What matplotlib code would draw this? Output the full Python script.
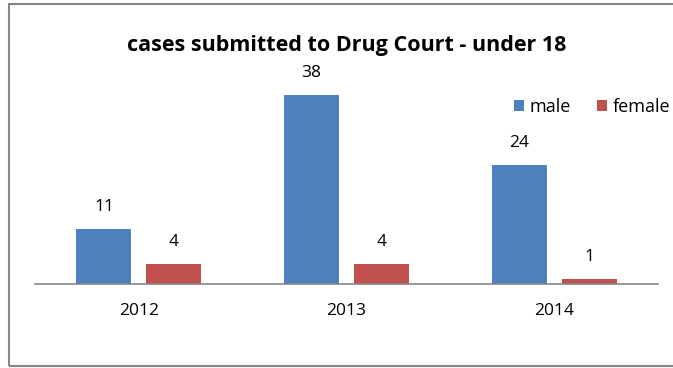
import matplotlib.pyplot as plt
import numpy as np
from matplotlib.patches import Rectangle

years = ["2012", "2013", "2014"]
male = [11, 38, 24]
female = [4, 4, 1]

plt.rcParams['font.family'] = ['Open Sans', 'DejaVu Sans']

fig = plt.figure(figsize=(6.73, 3.68), dpi=100)
fig.patches.append(Rectangle((9 / 673, 2 / 368), 1.2, 362 / 368, transform=fig.transFigure,
                             fill=False, edgecolor='#868686', linewidth=1.5))

ax = fig.add_axes([35 / 673, (368 - 284) / 368, 623 / 673, 199 / 368])
x = np.arange(len(years))
w = 0.265
off = 0.168
b1 = ax.bar(x - off, male, w, color='#4f81bd', label='male')
b2 = ax.bar(x + off, female, w, color='#c0504d', label='female')

for bars in (b1, b2):
    for r in bars:
        ax.text(r.get_x() + r.get_width() / 2, r.get_height() + 2.8, str(int(r.get_height())),
                ha='center', va='bottom', fontsize=12.5)

ax.set_xlim(-0.5, 2.5)
ax.set_ylim(0, 40)
ax.set_xticks(x)
ax.set_xticklabels(years, fontsize=12.5)
ax.tick_params(axis='x', length=0, pad=14)
ax.set_yticks([])
for s in ['top', 'right', 'left']:
    ax.spines[s].set_visible(False)
ax.spines['bottom'].set_color('#868686')
ax.spines['bottom'].set_linewidth(1.2)

fig.text(0.515, 0.877, "cases submitted to Drug Court - under 18", ha='center', va='center',
         fontsize=15.5, fontweight='bold')
fig.legend(loc='center', bbox_to_anchor=(592 / 673, 1 - 107 / 368), ncol=2, frameon=False,
           fontsize=13, handlelength=0.6, handleheight=0.6, handletextpad=0.3, columnspacing=1.4)

fig.savefig("out.png", dpi=100)
